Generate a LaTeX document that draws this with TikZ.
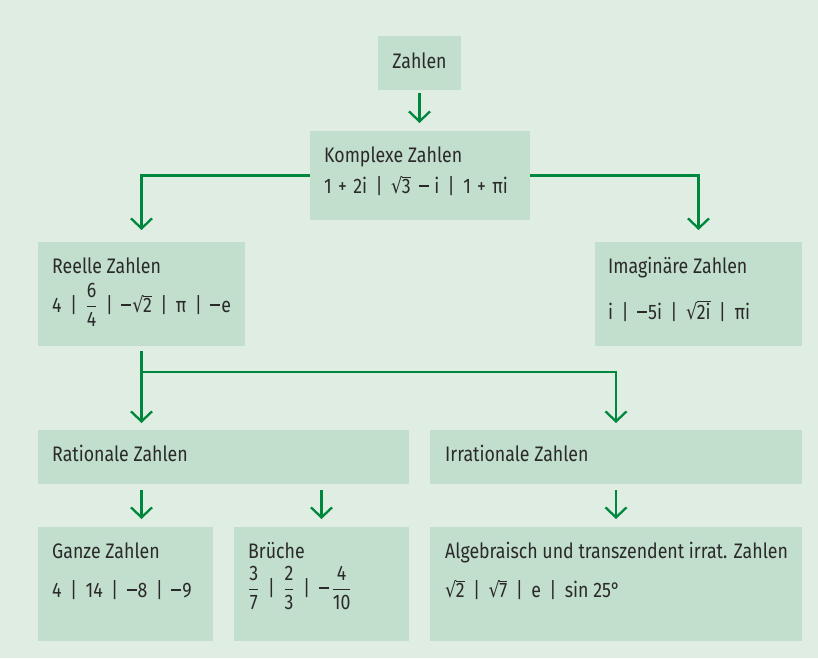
\documentclass[tikz,border=0pt]{standalone}
\usepackage{amsmath}
\usepackage{fontspec}
\setmainfont{Fira Sans}[FakeStretch=0.845]
\newfontfamily\symf{DejaVu Sans}[FakeStretch=0.85]
\usetikzlibrary{arrows.meta,calc}
\definecolor{bgc}{RGB}{224,237,226}
\definecolor{boxc}{RGB}{194,222,205}
\definecolor{arrc}{RGB}{0,135,62}
\definecolor{txtc}{RGB}{42,42,42}
\newcommand\rt[1]{\mbox{{\symf √}\kern-0.6pt\vbox{\hrule height 0.9pt\kern 1.0pt\hbox{#1}}}}
\newcommand\fr[2]{$\dfrac{\hbox{#1}}{\hbox{#2}}$}
\newcommand\sep{\hspace{0.4em}|\hspace{0.4em}}
\newcommand\mi{\rule[5.6pt]{10pt}{2.1pt}\kern1pt}
\newcommand\pl{\hspace{0.3em}+\hspace{0.3em}}
\begin{document}
\begin{tikzpicture}[x=1pt,y=-1pt,
  box/.style={fill=boxc, draw=none, inner sep=0pt, outer sep=0pt, anchor=north west},
  lbl/.style={anchor=base west, inner sep=0pt, text=txtc, font=\fontsize{21}{24}\selectfont},
  arr/.style={draw=arrc, line width=2.3pt, -{Straight Barb[length=10pt,width=21pt,line width=2.3pt]}},
  ln/.style={draw=arrc, line width=2.3pt}]
\fill[bgc] (0,0) rectangle (818,658);
\useasboundingbox (0,0) rectangle (818,658);
% boxes
\node[box, minimum width=83pt, minimum height=54pt] (zahlen) at (378,36) {};
\node[box, minimum width=220pt, minimum height=89pt] (komplex) at (310,131) {};
\node[box, minimum width=207pt, minimum height=104pt] (reell) at (38,242) {};
\node[box, minimum width=207pt, minimum height=104pt] (imag) at (595,242) {};
\node[box, minimum width=371pt, minimum height=54pt] (rat) at (38,430) {};
\node[box, minimum width=372pt, minimum height=54pt] (irr) at (430,430) {};
\node[box, minimum width=175pt, minimum height=114pt] (ganz) at (38,527) {};
\node[box, minimum width=175pt, minimum height=114pt] (bruch) at (234,527) {};
\node[box, minimum width=372pt, minimum height=114pt] (alg) at (430,527) {};
% texts
\node[lbl, anchor=center] (tzahlen) at ($(zahlen.center)+(0,-2)$) {Zahlen};
\node[lbl] (tkomplex) at (324,162) {Komplexe Zahlen};
\node[lbl] (tkomplex2) at (324,193) {1\pl 2i\sep \rt{3}\hspace{0.4em}\mi\hspace{0.2em}i\sep 1\pl πi};
\node[lbl] (treell) at (52,273) {Reelle Zahlen};
\node[lbl] (treell2) at (52,312) {4\sep\fr{6}{4}\sep\mi\rt{2}\sep π\sep \mi e};
\node[lbl] (timag) at (608,273) {Imaginäre Zahlen};
\node[lbl] (timag2) at (608,319) {i\sep \mi 5i\sep\rt{2i}\sep πi};
\node[lbl] (trat) at (52,461) {Rationale Zahlen};
\node[lbl] (tirr) at (445,461) {Irrationale Zahlen};
\node[lbl] (tganz) at (52,558) {Ganze Zahlen};
\node[lbl] (tganz2) at (52,597) {4\sep 14\sep \mi 8\sep \mi 9};
\node[lbl] (tbruch) at (248,558) {Brüche};
\node[lbl] (tbruch2) at (248,595) {\fr{3}{7}\sep\fr{2}{3}\sep \mi\kern2pt\fr{4}{10}};
\node[lbl] (talg) at (445,558) {Algebraisch und transzendent irrat. Zahlen};
\node[lbl] (talg2) at (445,597) {\rt{2}\sep\rt{7}\sep e\sep sin 25°};
% connectors
\draw[arr, shorten <=3pt, shorten >=8pt] (zahlen.south) -- (komplex.north -| zahlen.south);
\draw[arr, shorten >=12pt] (komplex.west) -| (reell.north);
\draw[arr, shorten >=12pt] (komplex.east) -| (imag.north);
\draw[arr, shorten <=5pt, shorten >=7pt] (reell.south) -- (reell.south |- rat.north);
\coordinate (br) at ($(reell.south)+(0,26)$);
\draw[arr, shorten >=7pt] (br) -| (irr.north);
\draw[arr, shorten <=6pt, shorten >=8pt] (rat.south -| reell.south) -- (ganz.north -| reell.south);
\draw[arr, shorten <=6pt, shorten >=8pt] (rat.south -| bruch.north) -- (bruch.north);
\draw[arr, shorten <=6pt, shorten >=8pt] (irr.south) -- (alg.north);
\end{tikzpicture}
\end{document}
